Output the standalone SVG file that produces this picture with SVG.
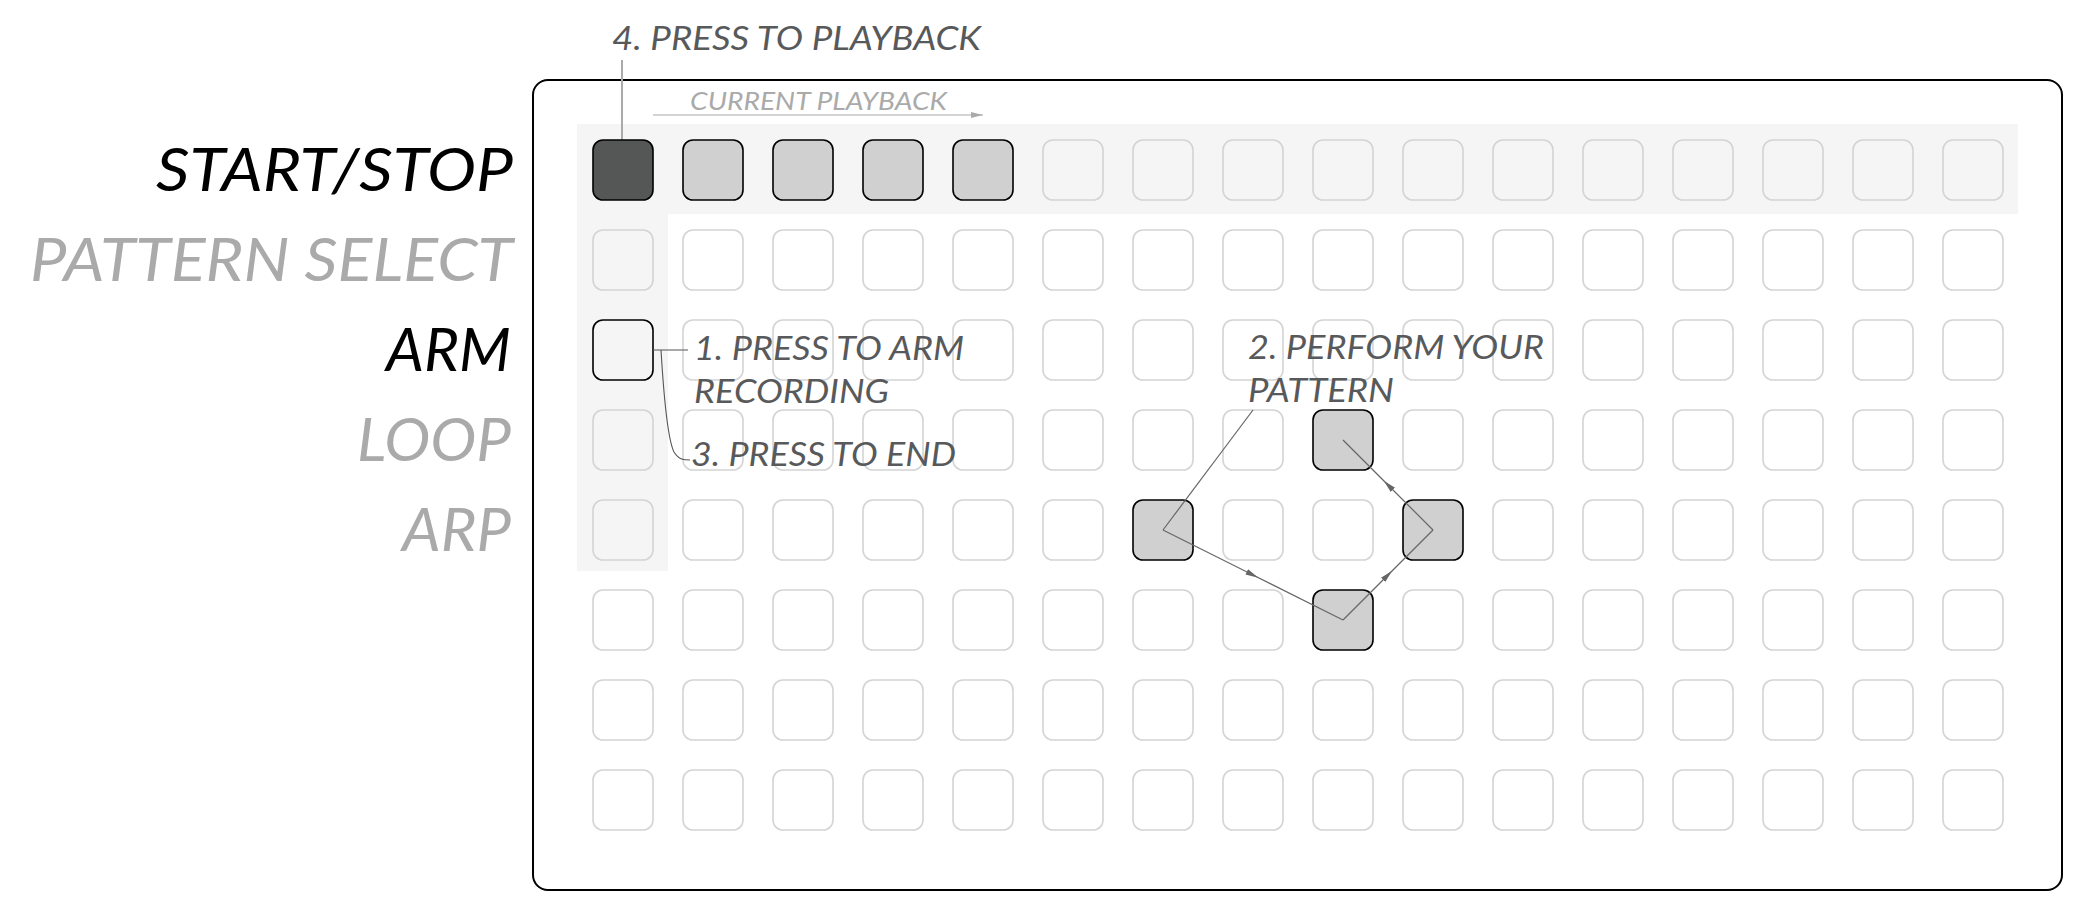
<svg xmlns="http://www.w3.org/2000/svg" width="2090" height="910" viewBox="0 0 2090 910">
<style>
text{font-family:"Lato","Liberation Sans",sans-serif;font-style:italic;font-weight:400;}
.lab{font-size:61px;}
.on{fill:#000;}
.off{fill:#aaaaaa;}
.note{font-size:33px;fill:#58595b;}
.cur{font-size:25px;fill:#aaaaaa;}
.b{fill:none;stroke:#d4d4d4;stroke-width:1.6;}
.bw{fill:#ffffff;stroke:#d4d4d4;stroke-width:1.6;}
.act{fill:#d0d0d0;stroke:#000;stroke-width:1.6;}
.dark{fill:#555756;stroke:#000;stroke-width:1.6;}
.arm{fill:none;stroke:#000;stroke-width:1.6;}
.strip{fill:#f5f5f5;}
.pl{fill:none;stroke:#666;stroke-width:1.2;}
.ld{fill:none;stroke:#555;stroke-width:1.1;}
</style>
<defs>
<marker id="ah" markerUnits="userSpaceOnUse" markerWidth="14" markerHeight="8" refX="7" refY="3" orient="auto"><path d="M0,0 L13,3 L0,6 Z" fill="#666"/></marker>
<marker id="ahc" markerUnits="userSpaceOnUse" markerWidth="14" markerHeight="8" refX="12" refY="3" orient="auto"><path d="M0,0 L12,3 L0,6 Z" fill="#aaaaaa"/></marker>
</defs>
<rect width="2090" height="910" fill="#ffffff"/>
<g id="frame"><rect x="533" y="80" width="1529" height="810" rx="15" fill="#ffffff" stroke="#000" stroke-width="2"/></g>
<g id="highlights">
<rect class="strip" x="577" y="124" width="1441" height="90"/>
<rect class="strip" x="577" y="124" width="91" height="447"/>
</g>
<g id="leader-playback"><line x1="622" y1="60" x2="622" y2="140" stroke="#aaaaaa" stroke-width="2"/></g>
<g id="grid">
<g id="row0">
<rect id="b0-0" class="dark" x="593" y="140" width="60" height="60" rx="10"/>
<rect id="b0-1" class="act" x="683" y="140" width="60" height="60" rx="10"/>
<rect id="b0-2" class="act" x="773" y="140" width="60" height="60" rx="10"/>
<rect id="b0-3" class="act" x="863" y="140" width="60" height="60" rx="10"/>
<rect id="b0-4" class="act" x="953" y="140" width="60" height="60" rx="10"/>
<rect id="b0-5" class="b" x="1043" y="140" width="60" height="60" rx="10"/>
<rect id="b0-6" class="b" x="1133" y="140" width="60" height="60" rx="10"/>
<rect id="b0-7" class="b" x="1223" y="140" width="60" height="60" rx="10"/>
<rect id="b0-8" class="b" x="1313" y="140" width="60" height="60" rx="10"/>
<rect id="b0-9" class="b" x="1403" y="140" width="60" height="60" rx="10"/>
<rect id="b0-10" class="b" x="1493" y="140" width="60" height="60" rx="10"/>
<rect id="b0-11" class="b" x="1583" y="140" width="60" height="60" rx="10"/>
<rect id="b0-12" class="b" x="1673" y="140" width="60" height="60" rx="10"/>
<rect id="b0-13" class="b" x="1763" y="140" width="60" height="60" rx="10"/>
<rect id="b0-14" class="b" x="1853" y="140" width="60" height="60" rx="10"/>
<rect id="b0-15" class="b" x="1943" y="140" width="60" height="60" rx="10"/>
</g>
<g id="row1">
<rect id="b1-0" class="b" x="593" y="230" width="60" height="60" rx="10"/>
<rect id="b1-1" class="bw" x="683" y="230" width="60" height="60" rx="10"/>
<rect id="b1-2" class="bw" x="773" y="230" width="60" height="60" rx="10"/>
<rect id="b1-3" class="bw" x="863" y="230" width="60" height="60" rx="10"/>
<rect id="b1-4" class="bw" x="953" y="230" width="60" height="60" rx="10"/>
<rect id="b1-5" class="bw" x="1043" y="230" width="60" height="60" rx="10"/>
<rect id="b1-6" class="bw" x="1133" y="230" width="60" height="60" rx="10"/>
<rect id="b1-7" class="bw" x="1223" y="230" width="60" height="60" rx="10"/>
<rect id="b1-8" class="bw" x="1313" y="230" width="60" height="60" rx="10"/>
<rect id="b1-9" class="bw" x="1403" y="230" width="60" height="60" rx="10"/>
<rect id="b1-10" class="bw" x="1493" y="230" width="60" height="60" rx="10"/>
<rect id="b1-11" class="bw" x="1583" y="230" width="60" height="60" rx="10"/>
<rect id="b1-12" class="bw" x="1673" y="230" width="60" height="60" rx="10"/>
<rect id="b1-13" class="bw" x="1763" y="230" width="60" height="60" rx="10"/>
<rect id="b1-14" class="bw" x="1853" y="230" width="60" height="60" rx="10"/>
<rect id="b1-15" class="bw" x="1943" y="230" width="60" height="60" rx="10"/>
</g>
<g id="row2">
<rect id="b2-0" class="arm" x="593" y="320" width="60" height="60" rx="10"/>
<rect id="b2-1" class="bw" x="683" y="320" width="60" height="60" rx="10"/>
<rect id="b2-2" class="bw" x="773" y="320" width="60" height="60" rx="10"/>
<rect id="b2-3" class="bw" x="863" y="320" width="60" height="60" rx="10"/>
<rect id="b2-4" class="bw" x="953" y="320" width="60" height="60" rx="10"/>
<rect id="b2-5" class="bw" x="1043" y="320" width="60" height="60" rx="10"/>
<rect id="b2-6" class="bw" x="1133" y="320" width="60" height="60" rx="10"/>
<rect id="b2-7" class="bw" x="1223" y="320" width="60" height="60" rx="10"/>
<rect id="b2-8" class="bw" x="1313" y="320" width="60" height="60" rx="10"/>
<rect id="b2-9" class="bw" x="1403" y="320" width="60" height="60" rx="10"/>
<rect id="b2-10" class="bw" x="1493" y="320" width="60" height="60" rx="10"/>
<rect id="b2-11" class="bw" x="1583" y="320" width="60" height="60" rx="10"/>
<rect id="b2-12" class="bw" x="1673" y="320" width="60" height="60" rx="10"/>
<rect id="b2-13" class="bw" x="1763" y="320" width="60" height="60" rx="10"/>
<rect id="b2-14" class="bw" x="1853" y="320" width="60" height="60" rx="10"/>
<rect id="b2-15" class="bw" x="1943" y="320" width="60" height="60" rx="10"/>
</g>
<g id="row3">
<rect id="b3-0" class="b" x="593" y="410" width="60" height="60" rx="10"/>
<rect id="b3-1" class="bw" x="683" y="410" width="60" height="60" rx="10"/>
<rect id="b3-2" class="bw" x="773" y="410" width="60" height="60" rx="10"/>
<rect id="b3-3" class="bw" x="863" y="410" width="60" height="60" rx="10"/>
<rect id="b3-4" class="bw" x="953" y="410" width="60" height="60" rx="10"/>
<rect id="b3-5" class="bw" x="1043" y="410" width="60" height="60" rx="10"/>
<rect id="b3-6" class="bw" x="1133" y="410" width="60" height="60" rx="10"/>
<rect id="b3-7" class="bw" x="1223" y="410" width="60" height="60" rx="10"/>
<rect id="b3-8" class="act" x="1313" y="410" width="60" height="60" rx="10"/>
<rect id="b3-9" class="bw" x="1403" y="410" width="60" height="60" rx="10"/>
<rect id="b3-10" class="bw" x="1493" y="410" width="60" height="60" rx="10"/>
<rect id="b3-11" class="bw" x="1583" y="410" width="60" height="60" rx="10"/>
<rect id="b3-12" class="bw" x="1673" y="410" width="60" height="60" rx="10"/>
<rect id="b3-13" class="bw" x="1763" y="410" width="60" height="60" rx="10"/>
<rect id="b3-14" class="bw" x="1853" y="410" width="60" height="60" rx="10"/>
<rect id="b3-15" class="bw" x="1943" y="410" width="60" height="60" rx="10"/>
</g>
<g id="row4">
<rect id="b4-0" class="b" x="593" y="500" width="60" height="60" rx="10"/>
<rect id="b4-1" class="bw" x="683" y="500" width="60" height="60" rx="10"/>
<rect id="b4-2" class="bw" x="773" y="500" width="60" height="60" rx="10"/>
<rect id="b4-3" class="bw" x="863" y="500" width="60" height="60" rx="10"/>
<rect id="b4-4" class="bw" x="953" y="500" width="60" height="60" rx="10"/>
<rect id="b4-5" class="bw" x="1043" y="500" width="60" height="60" rx="10"/>
<rect id="b4-6" class="act" x="1133" y="500" width="60" height="60" rx="10"/>
<rect id="b4-7" class="bw" x="1223" y="500" width="60" height="60" rx="10"/>
<rect id="b4-8" class="bw" x="1313" y="500" width="60" height="60" rx="10"/>
<rect id="b4-9" class="act" x="1403" y="500" width="60" height="60" rx="10"/>
<rect id="b4-10" class="bw" x="1493" y="500" width="60" height="60" rx="10"/>
<rect id="b4-11" class="bw" x="1583" y="500" width="60" height="60" rx="10"/>
<rect id="b4-12" class="bw" x="1673" y="500" width="60" height="60" rx="10"/>
<rect id="b4-13" class="bw" x="1763" y="500" width="60" height="60" rx="10"/>
<rect id="b4-14" class="bw" x="1853" y="500" width="60" height="60" rx="10"/>
<rect id="b4-15" class="bw" x="1943" y="500" width="60" height="60" rx="10"/>
</g>
<g id="row5">
<rect id="b5-0" class="bw" x="593" y="590" width="60" height="60" rx="10"/>
<rect id="b5-1" class="bw" x="683" y="590" width="60" height="60" rx="10"/>
<rect id="b5-2" class="bw" x="773" y="590" width="60" height="60" rx="10"/>
<rect id="b5-3" class="bw" x="863" y="590" width="60" height="60" rx="10"/>
<rect id="b5-4" class="bw" x="953" y="590" width="60" height="60" rx="10"/>
<rect id="b5-5" class="bw" x="1043" y="590" width="60" height="60" rx="10"/>
<rect id="b5-6" class="bw" x="1133" y="590" width="60" height="60" rx="10"/>
<rect id="b5-7" class="bw" x="1223" y="590" width="60" height="60" rx="10"/>
<rect id="b5-8" class="act" x="1313" y="590" width="60" height="60" rx="10"/>
<rect id="b5-9" class="bw" x="1403" y="590" width="60" height="60" rx="10"/>
<rect id="b5-10" class="bw" x="1493" y="590" width="60" height="60" rx="10"/>
<rect id="b5-11" class="bw" x="1583" y="590" width="60" height="60" rx="10"/>
<rect id="b5-12" class="bw" x="1673" y="590" width="60" height="60" rx="10"/>
<rect id="b5-13" class="bw" x="1763" y="590" width="60" height="60" rx="10"/>
<rect id="b5-14" class="bw" x="1853" y="590" width="60" height="60" rx="10"/>
<rect id="b5-15" class="bw" x="1943" y="590" width="60" height="60" rx="10"/>
</g>
<g id="row6">
<rect id="b6-0" class="bw" x="593" y="680" width="60" height="60" rx="10"/>
<rect id="b6-1" class="bw" x="683" y="680" width="60" height="60" rx="10"/>
<rect id="b6-2" class="bw" x="773" y="680" width="60" height="60" rx="10"/>
<rect id="b6-3" class="bw" x="863" y="680" width="60" height="60" rx="10"/>
<rect id="b6-4" class="bw" x="953" y="680" width="60" height="60" rx="10"/>
<rect id="b6-5" class="bw" x="1043" y="680" width="60" height="60" rx="10"/>
<rect id="b6-6" class="bw" x="1133" y="680" width="60" height="60" rx="10"/>
<rect id="b6-7" class="bw" x="1223" y="680" width="60" height="60" rx="10"/>
<rect id="b6-8" class="bw" x="1313" y="680" width="60" height="60" rx="10"/>
<rect id="b6-9" class="bw" x="1403" y="680" width="60" height="60" rx="10"/>
<rect id="b6-10" class="bw" x="1493" y="680" width="60" height="60" rx="10"/>
<rect id="b6-11" class="bw" x="1583" y="680" width="60" height="60" rx="10"/>
<rect id="b6-12" class="bw" x="1673" y="680" width="60" height="60" rx="10"/>
<rect id="b6-13" class="bw" x="1763" y="680" width="60" height="60" rx="10"/>
<rect id="b6-14" class="bw" x="1853" y="680" width="60" height="60" rx="10"/>
<rect id="b6-15" class="bw" x="1943" y="680" width="60" height="60" rx="10"/>
</g>
<g id="row7">
<rect id="b7-0" class="bw" x="593" y="770" width="60" height="60" rx="10"/>
<rect id="b7-1" class="bw" x="683" y="770" width="60" height="60" rx="10"/>
<rect id="b7-2" class="bw" x="773" y="770" width="60" height="60" rx="10"/>
<rect id="b7-3" class="bw" x="863" y="770" width="60" height="60" rx="10"/>
<rect id="b7-4" class="bw" x="953" y="770" width="60" height="60" rx="10"/>
<rect id="b7-5" class="bw" x="1043" y="770" width="60" height="60" rx="10"/>
<rect id="b7-6" class="bw" x="1133" y="770" width="60" height="60" rx="10"/>
<rect id="b7-7" class="bw" x="1223" y="770" width="60" height="60" rx="10"/>
<rect id="b7-8" class="bw" x="1313" y="770" width="60" height="60" rx="10"/>
<rect id="b7-9" class="bw" x="1403" y="770" width="60" height="60" rx="10"/>
<rect id="b7-10" class="bw" x="1493" y="770" width="60" height="60" rx="10"/>
<rect id="b7-11" class="bw" x="1583" y="770" width="60" height="60" rx="10"/>
<rect id="b7-12" class="bw" x="1673" y="770" width="60" height="60" rx="10"/>
<rect id="b7-13" class="bw" x="1763" y="770" width="60" height="60" rx="10"/>
<rect id="b7-14" class="bw" x="1853" y="770" width="60" height="60" rx="10"/>
<rect id="b7-15" class="bw" x="1943" y="770" width="60" height="60" rx="10"/>
</g>
</g>
<g id="connectors">
<line x1="653" y1="115" x2="983" y2="115" stroke="#aaaaaa" stroke-width="1.2" marker-end="url(#ahc)"/>
<path class="ld" d="M653,350 H688"/>
<path class="ld" d="M661,350 C664,400 668,440 674,452 C679,460 684,460 690,460"/>
<path class="pl" d="M1253,410 L1163,530"/>
<path class="pl" d="M1163,530 L1253,575" marker-end="url(#ah)"/>
<path class="pl" d="M1253,575 L1343,620"/>
<path class="pl" d="M1343,620 L1388,575" marker-end="url(#ah)"/>
<path class="pl" d="M1388,575 L1433,530"/>
<path class="pl" d="M1433,530 L1388,485" marker-end="url(#ah)"/>
<path class="pl" d="M1388,485 L1343,440"/>
</g>
<g id="labels">
<text class="lab on" x="156" y="191" textLength="357" lengthAdjust="spacingAndGlyphs">START/STOP</text>
<text class="lab off" x="30" y="281" textLength="483" lengthAdjust="spacingAndGlyphs">PATTERN SELECT</text>
<text class="lab on" x="386" y="371" textLength="125" lengthAdjust="spacingAndGlyphs">ARM</text>
<text class="lab off" x="357" y="461" textLength="154" lengthAdjust="spacingAndGlyphs">LOOP</text>
<text class="lab off" x="402" y="551" textLength="109" lengthAdjust="spacingAndGlyphs">ARP</text>
</g>
<g id="notes">
<text class="note" x="612" y="50" textLength="369" lengthAdjust="spacingAndGlyphs">4. PRESS TO PLAYBACK</text>
<text class="cur" x="690" y="110" textLength="257" lengthAdjust="spacingAndGlyphs">CURRENT PLAYBACK</text>
<text class="note" x="694" y="360" textLength="270" lengthAdjust="spacingAndGlyphs">1. PRESS TO ARM</text>
<text class="note" x="694" y="403" textLength="195" lengthAdjust="spacingAndGlyphs">RECORDING</text>
<text class="note" x="691" y="466" textLength="265" lengthAdjust="spacingAndGlyphs">3. PRESS TO END</text>
<text class="note" x="1248" y="359" textLength="296" lengthAdjust="spacingAndGlyphs">2. PERFORM YOUR</text>
<text class="note" x="1248" y="402" textLength="146" lengthAdjust="spacingAndGlyphs">PATTERN</text>
</g>
</svg>
